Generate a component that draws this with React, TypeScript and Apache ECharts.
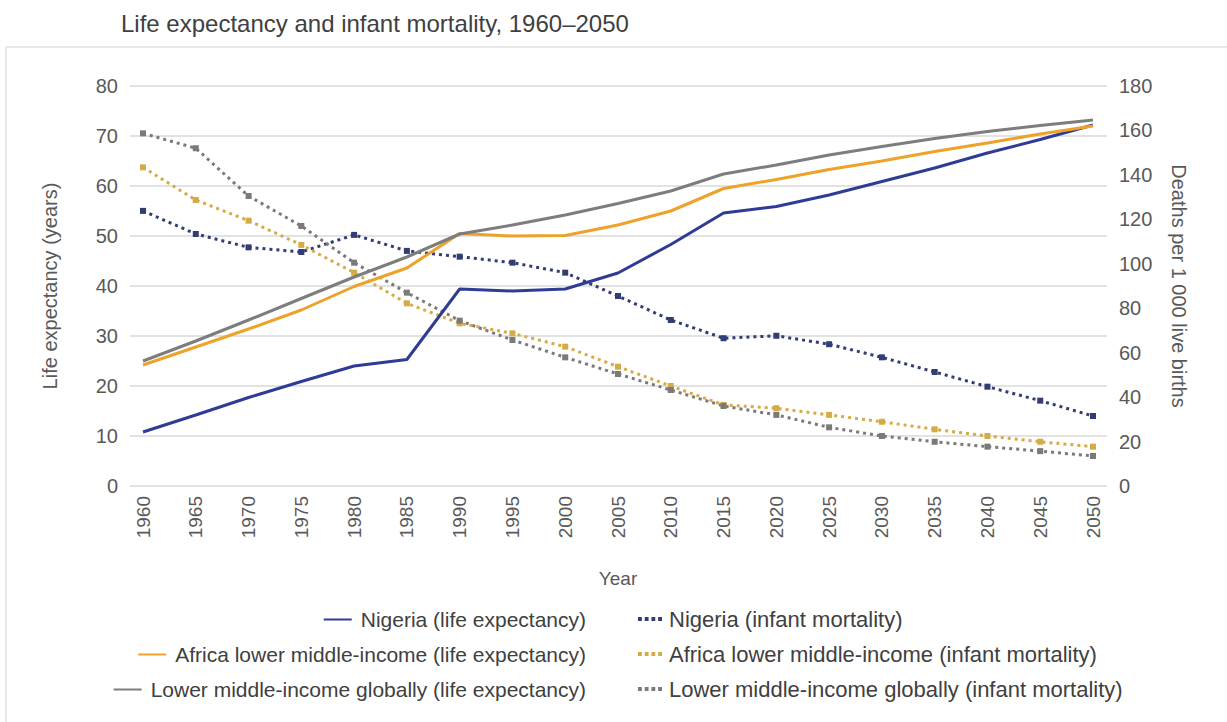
import React, { useEffect, useRef } from "react";
import * as echarts from "echarts";

const years = ["1960","1965","1970","1975","1980","1985","1990","1995","2000","2005","2010","2015","2020","2025","2030","2035","2040","2045","2050"];
const lifeTicks = [0, 80, 10];
const mortTicks = [0, 180, 20];

const nigeriaLife = [10.8, 14.2, 17.7, 20.9, 24.0, 25.3, 39.4, 39.0, 39.4, 42.6, 48.3, 54.6, 55.9, 58.2, 60.9, 63.6, 66.6, 69.3, 72.2];
const africaLife = [24.2, 27.8, 31.4, 35.2, 39.9, 43.6, 50.5, 50.0, 50.1, 52.2, 55.0, 59.5, 61.3, 63.3, 65.0, 66.9, 68.6, 70.4, 72.0];
const globalLife = [25.0, 29.0, 33.2, 37.5, 41.8, 45.8, 50.4, 52.2, 54.2, 56.5, 59.0, 62.4, 64.2, 66.2, 67.9, 69.5, 70.9, 72.1, 73.2];
const nigeriaMort = [123.8, 113.4, 107.4, 105.3, 113.0, 105.8, 103.2, 100.5, 96.0, 85.5, 74.7, 66.5, 67.6, 63.8, 57.9, 51.3, 44.7, 38.4, 31.5];
const africaMort = [143.4, 128.7, 119.4, 108.5, 96.0, 82.2, 73.2, 68.7, 62.7, 53.7, 45.0, 36.5, 35.0, 32.0, 28.9, 25.5, 22.5, 19.9, 17.7];
const globalMort = [158.7, 152.0, 130.5, 117.0, 100.5, 87.0, 74.4, 65.7, 57.9, 50.4, 43.2, 36.0, 32.0, 26.4, 22.5, 19.9, 17.7, 15.7, 13.5];

const names = [
  "Nigeria (life expectancy)",
  "Africa lower middle-income (life expectancy)",
  "Lower middle-income globally (life expectancy)",
  "Nigeria (infant mortality)",
  "Africa lower middle-income (infant mortality)",
  "Lower middle-income globally (infant mortality)",
];

const BLUE = "#2f3c95";
const ORANGE = "#eda22a";
const GRAY = "#7d7d7d";
const NAVY_DOT = "#323d74";
const GOLD_DOT = "#d6aa45";
const GRAY_DOT = "#7a7a7a";

const FONT = "'Liberation Sans', Arial, sans-serif";
const DOTS_ICON = "path://M0,0h4v4h-4z M7,0h4v4h-4z M14,0h4v4h-4z M21,0h4v4h-4z";

export default function App() {
  const ref = useRef<HTMLDivElement>(null);
  useEffect(() => {
    if (!ref.current) return;
    const chart = echarts.init(ref.current, null, { renderer: "svg" });
    const solid = (name: string, data: number[], color: string) => ({
      name, type: "line", data, xAxisIndex: 1, yAxisIndex: 1,
      showSymbol: false, symbol: "none", color,
      lineStyle: { color, width: 3 }, z: 3,
    });
    const dotted = (name: string, data: number[], color: string) => ({
      name, type: "line", data, xAxisIndex: 1, yAxisIndex: 2,
      symbol: "rect", symbolSize: 6, showSymbol: true, color,
      itemStyle: { color },
      lineStyle: { color, width: 3, type: [3, 4] }, z: 2,
    });
    const rowsY = [606, 641, 676];
    const legends: any[] = [];
    for (let i = 0; i < 3; i++) {
      legends.push({
        data: [{ name: names[i], icon: "rect" }],
        right: 1227 - 586, top: rowsY[i] + 3, orient: "horizontal", padding: 0,
        itemWidth: 28, itemHeight: 2, itemGap: 0, selectedMode: false,
        textStyle: { fontSize: 21, color: "#404040", fontFamily: FONT, padding: [0, 0, 0, 4] },
      });
      legends.push({
        data: [{ name: names[i + 3], icon: DOTS_ICON }],
        left: 638, top: rowsY[i] + 2, orient: "horizontal", padding: 0,
        itemWidth: 24, itemHeight: 4, itemGap: 0, selectedMode: false,
        textStyle: { fontSize: 22, color: "#404040", fontFamily: FONT, padding: [0, 0, 0, 2] },
      });
    }
    const option: any = {
      animation: false,
      backgroundColor: "#ffffff",
      textStyle: { fontFamily: FONT },
      title: {
        text: "Life expectancy and infant mortality, 1960\u20132050",
        left: 116, top: 6,
        textStyle: { fontSize: 24, fontWeight: "normal", color: "#404040", fontFamily: FONT },
      },
      graphic: [
        { type: "line", shape: { x1: 6, y1: 47, x2: 1227, y2: 47 }, style: { stroke: "#e2e2e2", lineWidth: 1.5 } },
        { type: "line", shape: { x1: 6, y1: 47, x2: 6, y2: 722 }, style: { stroke: "#e2e2e2", lineWidth: 1.5 } },
      ],
      legend: legends,
      grid: [
        { left: 130, right: 120, top: 86, bottom: 236 },
        { left: 143, right: 134, top: 86, bottom: 236 },
      ],
      xAxis: [
        { type: "category", gridIndex: 0, data: years, show: false, boundaryGap: false },
        {
          type: "category", gridIndex: 1, data: years, boundaryGap: false,
          axisLine: { show: false }, axisTick: { show: false },
          axisLabel: { rotate: 90, fontSize: 19, color: "#595959", margin: 10, fontFamily: FONT },
          name: "Year", nameLocation: "middle", nameGap: 83,
          nameTextStyle: { fontSize: 19, color: "#595959", fontFamily: FONT },
        },
      ],
      yAxis: [
        {
          type: "value", gridIndex: 0, min: lifeTicks[0], max: lifeTicks[1], interval: lifeTicks[2],
          axisLine: { show: false }, axisTick: { show: false },
          axisLabel: { fontSize: 20, color: "#595959", margin: 12, fontFamily: FONT },
          splitLine: { lineStyle: { color: "#d9d9d9", width: 1.5 } },
          name: "Life expectancy (years)", nameLocation: "middle", nameGap: 70,
          nameTextStyle: { fontSize: 20, color: "#595959", fontFamily: FONT },
        },
        {
          type: "value", gridIndex: 1, min: lifeTicks[0], max: lifeTicks[1], interval: lifeTicks[2],
          show: false, splitLine: { show: false },
        },
        {
          type: "value", gridIndex: 1, position: "right", min: mortTicks[0], max: mortTicks[1], interval: mortTicks[2],
          axisLine: { show: false }, axisTick: { show: false }, splitLine: { show: false },
          axisLabel: { fontSize: 20, color: "#595959", margin: 26, fontFamily: FONT },
          name: "Deaths per 1 000 live births", nameLocation: "middle", nameGap: 76, nameRotate: -90,
          nameMoveOverlap: false,
          nameTextStyle: { fontSize: 20, color: "#595959", fontFamily: FONT },
        },
      ],
      series: [
        dotted(names[3], nigeriaMort, NAVY_DOT),
        dotted(names[4], africaMort, GOLD_DOT),
        dotted(names[5], globalMort, GRAY_DOT),
        solid(names[0], nigeriaLife, BLUE),
        solid(names[1], africaLife, ORANGE),
        solid(names[2], globalLife, GRAY),
      ],
    };
    chart.setOption(option);
    return () => chart.dispose();
  }, []);
  return <div ref={ref} style={{ width: 1227, height: 722, position: "absolute", left: 0, top: 0 }} />;
}
